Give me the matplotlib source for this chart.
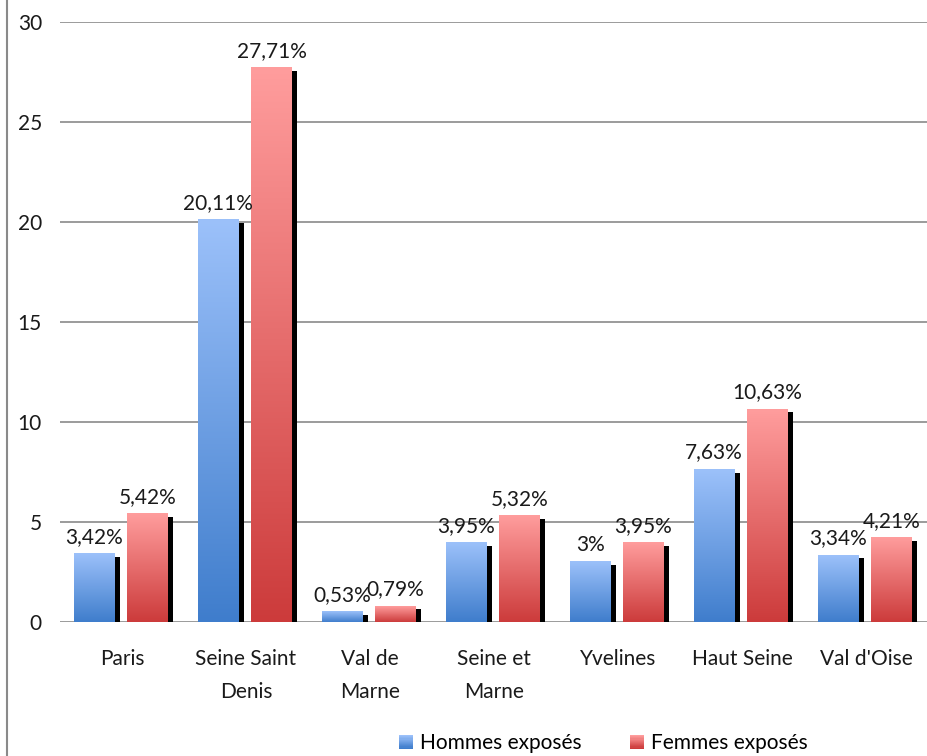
import numpy as np
import matplotlib.pyplot as plt
from matplotlib.patches import Patch, Rectangle
from matplotlib.colors import LinearSegmentedColormap
from matplotlib.legend_handler import HandlerBase
from matplotlib.lines import Line2D

departements = ['Paris', 'Seine Saint\nDenis', 'Val de\nMarne', 'Seine et\nMarne',
                'Yvelines', 'Haut Seine', "Val d'Oise"]
hommes = [3.42, 20.11, 0.53, 3.95, 3.00, 7.63, 3.34]
femmes = [5.42, 27.71, 0.79, 5.32, 3.95, 10.63, 4.21]

plt.rcParams['font.family'] = ['Lato', 'DejaVu Sans']

blue_cmap = LinearSegmentedColormap.from_list('bleu', ['#3f7dcc', '#9cc1fa'])
red_cmap = LinearSegmentedColormap.from_list('rouge', ['#cc3b3b', '#ff9d9d'])
grad = np.linspace(0, 1, 256).reshape(-1, 1)


class GradientHandler(HandlerBase):
    def __init__(self, cmap, steps=12):
        super().__init__()
        self.cmap = cmap
        self.steps = steps

    def create_artists(self, legend, orig_handle, xdescent, ydescent, width,
                       height, fontsize, trans):
        side = min(width, height)
        y0 = -ydescent + (height - side) / 2
        dh = side / self.steps
        return [Rectangle((-xdescent, y0 + k * dh), side, dh * 1.05,
                          facecolor=self.cmap(k / (self.steps - 1)),
                          edgecolor='none', transform=trans)
                for k in range(self.steps)]


fig = plt.figure(figsize=(9.28, 7.56), dpi=100)
ax = fig.add_axes([0.0647, 0.177, 0.9353, 0.794])

bar_w = 0.33
shadow_w = 0.04
shadow_drop = 0.15


def gradient_bar(x0, h, cmap):
    # black offset shadow on the right side
    ax.add_patch(Rectangle((x0 + bar_w, 0), shadow_w, max(h - shadow_drop, 0),
                           facecolor='black', edgecolor='none', zorder=2))
    ax.imshow(grad, cmap=cmap, extent=(x0, x0 + bar_w, 0, h), origin='lower',
              aspect='auto', zorder=3, interpolation='bicubic')


def fmt(v):
    return f'{v:g}'.replace('.', ',') + '%'


x = np.arange(len(departements))
for i in x:
    gradient_bar(i - 0.39, hommes[i], blue_cmap)
    gradient_bar(i + 0.04, femmes[i], red_cmap)
    ax.annotate(fmt(hommes[i]), (i - 0.39 + bar_w / 2, hommes[i]), xytext=(0, 5),
                textcoords='offset points', ha='center', va='bottom', fontsize=15,
                color='#1a1a1a')
    ax.annotate(fmt(femmes[i]), (i + 0.04 + bar_w / 2, femmes[i]), xytext=(0, 5),
                textcoords='offset points', ha='center', va='bottom', fontsize=15,
                color='#1a1a1a')

ax.set_xlim(-0.5, len(departements) - 0.5)
ax.set_ylim(0, 30)
ax.set_yticks(range(0, 31, 5))
ax.set_xticks(x)
ax.set_xticklabels(departements, linespacing=1.85)
ax.tick_params(axis='y', length=0, pad=13, labelsize=15, labelcolor='#1a1a1a')
ax.tick_params(axis='x', length=0, pad=19, labelsize=15, labelcolor='#1a1a1a')
ax.yaxis.grid(True, color='#8a8a8a', linewidth=1.2)
ax.set_axisbelow(True)
for s in ax.spines.values():
    s.set_visible(False)

h_patch = Patch(label='Hommes exposés')
f_patch = Patch(label='Femmes exposés')
fig.legend(handles=[h_patch, f_patch], loc='center', bbox_to_anchor=(0.650, 0.017),
           ncol=2, frameon=False, fontsize=15, handlelength=0.67, handleheight=0.67,
           handletextpad=0.35, columnspacing=2.3,
           handler_map={h_patch: GradientHandler(blue_cmap),
                        f_patch: GradientHandler(red_cmap)})

fig.add_artist(Line2D([7 / 928, 7 / 928], [0, 1], color='#8a8a8a', linewidth=1.5))

fig.savefig('out.png', dpi=100)
